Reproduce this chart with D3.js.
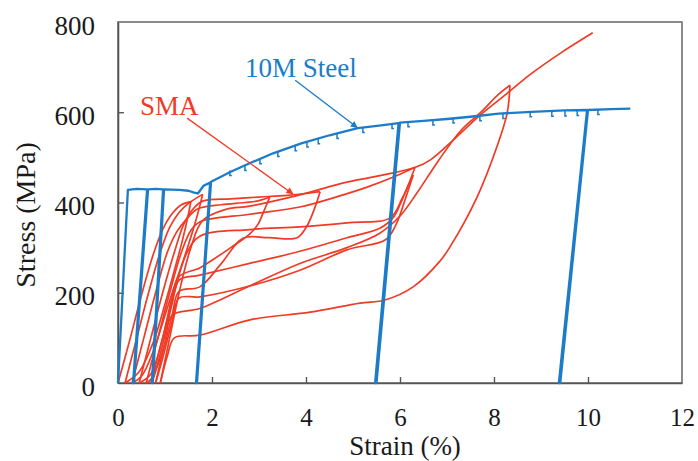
<!DOCTYPE html>
<html>
<head>
<meta charset="utf-8">
<script src="https://cdn.jsdelivr.net/npm/d3@7"></script>
<style>
  body { margin: 0; background: #fff; }
  text { font-family: "Liberation Serif", "Times New Roman", serif; }
</style>
</head>
<body>
<div id="vis"></div>
<script>
// axis ticks
var xTicks = [0, 2, 4, 6, 8, 10, 12];
var yTicks = [0, 200, 400, 600, 800];

// 10M steel bar, [strain %, stress MPa] in test order (unload / reload loops included)
var steel = [
  [0, 0], [0.21, 428], [0.4, 430], [0.62, 429], [0.32, 0], [0.34, 0], [0.64, 429],
  [0.8, 430], [0.96, 429], [0.72, 0], [0.74, 0], [0.98, 429],
  [1.3, 428], [1.5, 426], [1.62, 422], [1.7, 420], [1.82, 437], [1.96, 444], [1.66, 0], [1.68, 0], [1.98, 446],
  [2.4, 468], [2.8, 487], [3.3, 509], [3.9, 531], [4.5, 549], [5.1, 565], [5.6, 571], [5.97, 576],
  [5.47, 0], [5.5, 0], [6.0, 577],
  [6.5, 581], [7.0, 585], [7.5, 590], [8.1, 597], [8.8, 601], [9.5, 604], [9.98, 605],
  [9.38, 0], [9.41, 0], [10.0, 605], [10.5, 607], [10.9, 608]
];
// little load-hold drops along the steel hardening curve
var steelDips = [
  [2.38, 471], [2.7, 482], [3.02, 497], [3.4, 513], [3.77, 526], [4.02, 534], [4.26, 541],
  [4.66, 553], [5.21, 566], [5.83, 575], [6.17, 579], [6.7, 583], [7.13, 587], [7.7, 592],
  [8.19, 597], [8.77, 601], [9.23, 602], [9.51, 603], [9.77, 604], [10.21, 606]
];

// SMA bar, one array per loading cycle (load up to the peak, then unload)
var sma1 = [[0, 0], [0.25, 95], [0.5, 195], [0.75, 285], [0.95, 340], [1.15, 375], [1.35, 395], [1.55, 402],
  [1.5, 375], [1.38, 320], [1.2, 250], [1.0, 175], [0.75, 90], [0.45, 25], [0.15, 0]];
var sma2 = [[0.15, 0], [0.4, 100], [0.65, 200], [0.9, 290], [1.1, 345], [1.3, 378], [1.5, 398], [1.8, 418],
  [1.74, 392], [1.6, 340], [1.4, 275], [1.2, 215], [1.0, 150], [0.75, 70], [0.5, 15], [0.3, 0]];
var sma3 = [[0.3, 0], [0.55, 100], [0.8, 200], [1.05, 290], [1.25, 335], [1.45, 362], [1.7, 386], [2.2, 395],
  [2.7, 400], [3.0, 404], [3.23, 412],
  [3.12, 385], [2.98, 352], [2.8, 330], [2.4, 300], [2.0, 272], [1.74, 255], [1.3, 236], [1.15, 190],
  [0.95, 100], [0.7, 20], [0.45, 0]];
var sma4 = [[0.45, 0], [0.7, 100], [0.95, 200], [1.2, 290], [1.4, 352], [1.6, 386], [1.8, 403], [2.4, 408],
  [3.0, 412], [3.6, 416], [4.0, 420], [4.3, 424],
  [4.2, 392], [4.02, 348], [3.81, 322], [3.2, 322], [2.66, 321], [2.2, 265], [1.74, 213], [1.3, 203],
  [1.15, 150], [0.95, 70], [0.7, 8], [0.6, 0]];
var sma5 = [[0.6, 0], [0.85, 100], [1.1, 200], [1.35, 290], [1.55, 338], [1.74, 357], [2.8, 374], [3.87, 390],
  [4.7, 414], [5.3, 434], [5.9, 458], [6.32, 478],
  [6.2, 445], [6.02, 400], [5.85, 366], [5.57, 343], [4.87, 322], [3.87, 292], [2.8, 265], [1.74, 239],
  [1.3, 228], [1.15, 175], [0.95, 85], [0.75, 10], [0.7, 0]];
var sma6 = [[0.7, 0], [0.95, 100], [1.2, 200], [1.45, 285], [1.74, 325], [2.8, 340], [3.87, 346], [4.87, 355],
  [5.79, 366], [6.05, 410], [6.28, 461],
  [6.12, 410], [5.92, 352], [5.7, 318], [4.87, 295], [3.87, 250], [2.8, 215], [1.74, 191], [1.3, 188],
  [1.15, 135], [0.95, 55], [0.8, 0]];
var sma7 = [[0.8, 0], [1.0, 90], [1.15, 150], [1.74, 165], [2.8, 215], [3.87, 265], [4.87, 300], [5.57, 332],
  [6.0, 370], [6.36, 421], [6.8, 490], [7.3, 560], [7.7, 598], [8.1, 640], [8.34, 660],
  [8.28, 598], [8.06, 523], [7.64, 412], [7.06, 301], [6.85, 270], [6.28, 213], [5.68, 184], [5.15, 177],
  [4.09, 157], [2.81, 140], [1.74, 106], [1.2, 100], [1.05, 60], [0.9, 0]];
var sma8 = [[0.9, 0], [1.08, 90], [1.3, 200], [1.55, 300], [1.8, 360], [2.3, 385], [2.8, 392], [3.87, 417],
  [4.87, 445], [5.6, 460], [6.33, 478], [6.64, 494], [7.2, 545], [7.7, 593], [8.28, 642], [8.8, 686],
  [9.4, 730], [10.1, 776]];
var smaCycles = [sma1, sma2, sma3, sma4, sma5, sma6, sma7, sma8];

var W = 698, H = 461;
var m = {top: 22, right: 16, bottom: 78, left: 118};
var blue = "#1c7cc8", red = "#ef3b26";

var svg = d3.select("#vis").append("svg")
  .attr("width", W)
  .attr("height", H);

var x = d3.scaleLinear().domain([0, 12]).range([m.left, W - m.right]);
var y = d3.scaleLinear().domain([0, 800]).range([H - m.bottom, m.top]);

var line = d3.line()
  .x(function(d){ return x(d[0]); })
  .y(function(d){ return y(d[1]); });
var smooth = d3.line()
  .x(function(d){ return x(d[0]); })
  .y(function(d){ return y(d[1]); })
  .curve(d3.curveCatmullRom.alpha(0.5));

// frame
svg.append("rect")
  .attr("x", x(0)).attr("y", y(800))
  .attr("width", x(12) - x(0)).attr("height", y(0) - y(800))
  .attr("fill", "none").attr("stroke", "#6e6e6e").attr("stroke-width", 1.6);

// axes with inward ticks
var xAxis = d3.axisBottom(x).tickValues(xTicks).tickSizeInner(-6).tickSizeOuter(0).tickPadding(25);
var yAxis = d3.axisLeft(y).tickValues(yTicks).tickSizeInner(-6).tickSizeOuter(0).tickPadding(23);

var gx = svg.append("g").attr("transform", "translate(0," + y(0) + ")").call(xAxis);
var gy = svg.append("g").attr("transform", "translate(" + x(0) + ",0)").call(yAxis);
[gx, gy].forEach(function(g){
  g.select(".domain").attr("stroke", "#555").attr("stroke-width", 1.6);
  g.selectAll(".tick line").attr("stroke", "#555").attr("stroke-width", 1.4);
  g.selectAll(".tick text").attr("fill", "#1a1a1a").style("font-family", "'Liberation Serif', serif");
});
gx.selectAll(".tick text").attr("font-size", 25);
gy.selectAll(".tick text").attr("font-size", 27).attr("dy", "0.45em");
// no tick marks on the frame corners
gx.selectAll(".tick").filter(function(d){ return d == 0 || d == 12; }).select("line").remove();
gy.selectAll(".tick").filter(function(d){ return d == 0 || d == 800; }).select("line").remove();

// axis titles
svg.append("text")
  .attr("x", 405).attr("y", 455)
  .attr("text-anchor", "middle")
  .attr("font-size", 27).attr("fill", "#1a1a1a")
  .text("Strain (%)");
svg.append("text")
  .attr("transform", "translate(35,215) rotate(-90)")
  .attr("text-anchor", "middle")
  .attr("font-size", 28).attr("fill", "#1a1a1a")
  .text("Stress (MPa)");

// SMA cycles: split each at its peak strain so the smoothing keeps the tips sharp
var smaSegments = [];
smaCycles.forEach(function(c){
  var k = d3.maxIndex(c, function(d){ return d[0]; });
  smaSegments.push(c.slice(0, k + 1));
  if (k < c.length - 1) smaSegments.push(c.slice(k));
});
svg.append("g").selectAll("path")
  .data(smaSegments)
  .enter().append("path")
  .attr("d", smooth)
  .attr("fill", "none")
  .attr("stroke", red)
  .attr("stroke-width", 1.7)
  .attr("stroke-linejoin", "round");

// steel
svg.append("path")
  .datum(steel)
  .attr("d", line)
  .attr("fill", "none")
  .attr("stroke", blue)
  .attr("stroke-width", 2.3)
  .attr("stroke-linejoin", "round");

svg.append("g").selectAll("path")
  .data(steelDips)
  .enter().append("path")
  .attr("d", function(d){
    var px = x(d[0]), py = y(d[1]);
    return "M" + px + "," + py + "L" + px + "," + (py + 5) + "L" + (px + 2) + "," + (py + 5);
  })
  .attr("fill", "none")
  .attr("stroke", blue)
  .attr("stroke-width", 1.5);

// labels with arrows
var defs = svg.append("defs");
[["arrBlue", blue], ["arrRed", red]].forEach(function(a){
  defs.append("marker")
    .attr("id", a[0])
    .attr("viewBox", "0 0 10 10")
    .attr("refX", 9).attr("refY", 5)
    .attr("markerWidth", 9).attr("markerHeight", 7)
    .attr("markerUnits", "userSpaceOnUse")
    .attr("orient", "auto")
    .append("path").attr("d", "M0,0L10,5L0,10z").attr("fill", a[1]);
});

var notes = [
  {text: "10M Steel", color: blue, marker: "arrBlue", at: [2.7, 678], from: [3.77, 671], to: [5.09, 566]},
  {text: "SMA", color: red, marker: "arrRed", at: [0.47, 594], from: [1.47, 587], to: [3.72, 419]}
];
notes.forEach(function(n){
  svg.append("text")
    .attr("x", x(n.at[0])).attr("y", y(n.at[1]))
    .attr("font-size", 27).attr("fill", n.color)
    .text(n.text);
  svg.append("line")
    .attr("x1", x(n.from[0])).attr("y1", y(n.from[1]))
    .attr("x2", x(n.to[0])).attr("y2", y(n.to[1]))
    .attr("stroke", n.color).attr("stroke-width", 1.3)
    .attr("marker-end", "url(#" + n.marker + ")");
});
</script>
</body>
</html>
